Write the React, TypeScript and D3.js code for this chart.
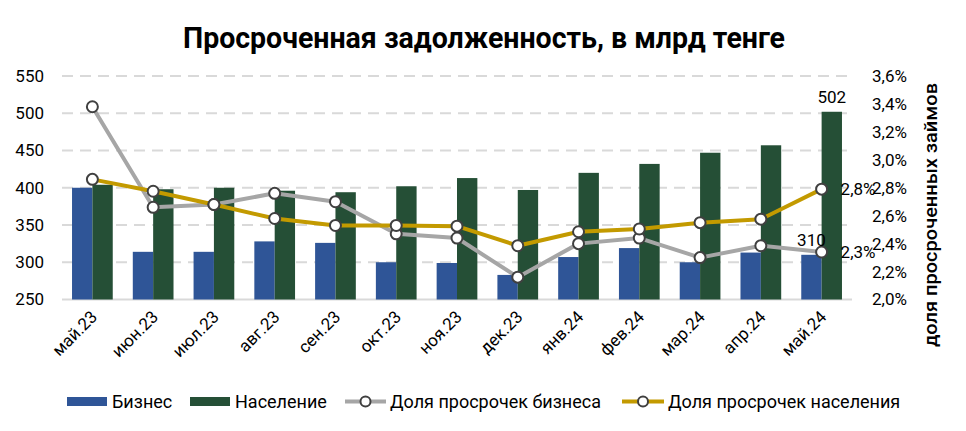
import React from "react";
import * as d3 from "d3";

const categories = ["май.23","июн.23","июл.23","авг.23","сен.23","окт.23","ноя.23","дек.23","янв.24","фев.24","мар.24","апр.24","май.24"];
const business = [400, 314, 314, 328, 326, 300, 299, 283, 307, 319, 300, 313, 310];
const population = [404, 398, 400, 396, 394, 402, 413, 397, 420, 432, 447, 457, 502];
const shareBusiness = [3.38, 2.66, 2.68, 2.76, 2.70, 2.47, 2.44, 2.16, 2.40, 2.44, 2.30, 2.385, 2.34];
const sharePopulation = [2.86, 2.775, 2.68, 2.58, 2.53, 2.53, 2.525, 2.385, 2.485, 2.505, 2.55, 2.575, 2.79];
const leftTicks = [250, 300, 350, 400, 450, 500, 550];
const rightTicks = [2.0, 2.2, 2.4, 2.6, 2.8, 3.0, 3.2, 3.4, 3.6];

const FONT = "Roboto, 'DejaVu Sans', sans-serif";
const C_BLUE = "#2F5597";
const C_GREEN = "#254F36";
const C_GRAY = "#A6A6A6";
const C_GOLD = "#C39A00";

export default function App() {
  const W = 966, H = 431;
  const x0 = 62, x1 = 852, yTop = 76, yBot = 299.5;
  const x = d3.scaleBand<string>().domain(categories).range([x0, x1]).paddingInner(0.33).paddingOuter(0.165);
  const yL = d3.scaleLinear().domain([250, 550]).range([yBot, yTop]);
  const yR = d3.scaleLinear().domain([2.0, 3.6]).range([yBot, yTop]);
  const bw = x.bandwidth() / 2;
  const cx = (c: string) => (x(c) as number) + x.bandwidth() / 2;
  const fmtPct = (v: number) => v.toFixed(1).replace(".", ",") + "%";
  const lineB = d3.line<number>().x((_, i) => cx(categories[i])).y(v => yR(v));
  const last = categories.length - 1;

  return (
    <svg width={W} height={H} style={{ display: "block", position: "absolute", left: 0, top: 0, background: "#fff" }}>
      <text x={484} y={48} textAnchor="middle" fontFamily={FONT} fontWeight={700} fontSize={30} fill="#000" textLength={602} lengthAdjust="spacingAndGlyphs">
        Просроченная задолженность, в млрд тенге
      </text>

      {leftTicks.map(t => (
        <line key={"g" + t} x1={x0} x2={x1} y1={yL(t)} y2={yL(t)} stroke="#D9D9D9" strokeWidth={2}
          strokeDasharray={t === 250 ? undefined : "11,7"} />
      ))}
      {leftTicks.map(t => (
        <text key={"l" + t} x={44} y={yL(t)} dy="0.35em" textAnchor="end" fontFamily={FONT} fontSize={17} fill="#000">{t}</text>
      ))}
      {rightTicks.map(t => (
        <text key={"r" + t} x={872} y={yR(t)} dy="0.35em" textAnchor="start" fontFamily={FONT} fontSize={17} fill="#000">{fmtPct(t)}</text>
      ))}
      <text transform={`translate(937,215) rotate(-90)`} textAnchor="middle" fontFamily={FONT} fontSize={19} fontWeight={500} fill="#000" textLength={264} lengthAdjust="spacingAndGlyphs">
        доля просроченных займов
      </text>

      {categories.map((c, i) => (
        <g key={"b" + c}>
          <rect x={x(c)} y={yL(business[i])} width={bw} height={yBot - yL(business[i])} fill={C_BLUE} />
          <rect x={(x(c) as number) + bw} y={yL(population[i])} width={bw} height={yBot - yL(population[i])} fill={C_GREEN} />
        </g>
      ))}

      {categories.map(c => (
        <text key={"x" + c} transform={`translate(${cx(c) + 6},318) rotate(-45)`} textAnchor="end" fontFamily={FONT} fontSize={17} fill="#000">{c}</text>
      ))}

      <path d={lineB(shareBusiness) || ""} fill="none" stroke={C_GRAY} strokeWidth={4} strokeLinejoin="round" />
      <path d={lineB(sharePopulation) || ""} fill="none" stroke={C_GOLD} strokeWidth={4} strokeLinejoin="round" />
      {shareBusiness.map((v, i) => (
        <circle key={"mb" + i} cx={cx(categories[i])} cy={yR(v)} r={5.5} fill="#fff" stroke="#404040" strokeWidth={2} />
      ))}
      {sharePopulation.map((v, i) => (
        <circle key={"mp" + i} cx={cx(categories[i])} cy={yR(v)} r={5.5} fill="#fff" stroke="#404040" strokeWidth={2} />
      ))}

      <text x={(x(categories[last]) as number) + bw * 1.5} y={yL(population[last]) - 9} textAnchor="middle" fontFamily={FONT} fontSize={17} fill="#000">{population[last]}</text>
      <text x={(x(categories[last]) as number) + bw * 0.5} y={yL(business[last]) - 9} textAnchor="middle" fontFamily={FONT} fontSize={17} fill="#000">{business[last]}</text>
      <text x={cx(categories[last]) + 19} y={yR(sharePopulation[last])} dy="0.35em" fontFamily={FONT} fontSize={17} fill="#000">{fmtPct(sharePopulation[last])}</text>
      <text x={cx(categories[last]) + 19} y={yR(shareBusiness[last])} dy="0.35em" fontFamily={FONT} fontSize={17} fill="#000">{fmtPct(shareBusiness[last])}</text>

      <g fontFamily={FONT} fontSize={18} fill="#000">
        <rect x={67} y={397} width={40} height={9} fill={C_BLUE} />
        <text x={112} y={408}>Бизнес</text>
        <rect x={190} y={397} width={40} height={9} fill={C_GREEN} />
        <text x={235} y={408}>Население</text>
        <line x1={345} x2={386} y1={401.5} y2={401.5} stroke={C_GRAY} strokeWidth={4} />
        <circle cx={365.5} cy={401.5} r={5} fill="#fff" stroke="#404040" strokeWidth={2} />
        <text x={390} y={408}>Доля просрочек бизнеса</text>
        <line x1={622} x2={664} y1={401.5} y2={401.5} stroke={C_GOLD} strokeWidth={4} />
        <circle cx={643} cy={401.5} r={5} fill="#fff" stroke="#404040" strokeWidth={2} />
        <text x={668} y={408}>Доля просрочек населения</text>
      </g>
    </svg>
  );
}
